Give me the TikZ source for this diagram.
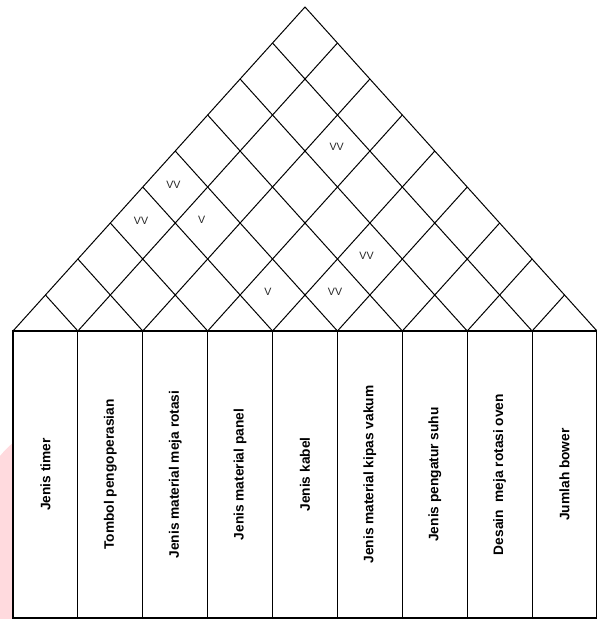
\documentclass[tikz,border=0pt]{standalone}
\usepackage{fontspec}
\setmainfont{Liberation Sans}
\begin{document}
\begin{tikzpicture}[x=0.75pt,y=-0.75pt,
  roofline/.style={line width=0.75pt},
  colbox/.style={draw,line width=0.9pt,rotate=90,minimum width=215.25pt,minimum height=48.67pt,inner sep=0pt,font=\bfseries\fontsize{10.3pt}{12pt}\selectfont},
  rel/.style={font=\fontsize{8pt}{9pt}\selectfont,text=black!85,inner sep=0pt}]
\useasboundingbox (0,0) rectangle (597,619);
% faint watermark at the left edge
\fill[fill={rgb,255:red,255;green,218;blue,222}] (0,456) .. controls (5,450) and (9,446) .. (13,443) -- (13,619) -- (0,619) -- cycle;
% roof
\coordinate (apex) at (305,7);
\foreach \k in {0,...,9} {
  \coordinate (b\k) at ({13+\k*64.889},331);
}
\draw[roofline] (b0) -- (apex) -- (b9);
\foreach \k in {1,...,8} {
  \draw[roofline] (b\k) -- ({(13+\k*64.889+597)/2},{331-(597-13-\k*64.889)/2*1.10959});
  \draw[roofline] (b\k) -- ({(26+\k*64.889)/2},{331-(\k*64.889)/2*1.10959});
}
% columns
\foreach \k/\t in {0/Jenis timer,1/Tombol pengoperasian,2/Jenis material meja rotasi,3/Jenis material panel,4/Jenis kabel,5/Jenis material kipas vakum,6/Jenis pengatur suhu,7/Desain~ meja rotasi oven,8/Jumlah bower} {
  \node[colbox] (c\k) at ({13+(\k+0.5)*64.889},474.5) {\t};
}
% relationship marks
\node[rel] (r1) at (336.7,147) {VV};
\node[rel] (r2) at (173.5,185) {VV};
\node[rel] (r3) at (141,220.5) {VV};
\node[rel] (r4) at (201.7,219.5) {V};
\node[rel] (r5) at (366.5,255.5) {VV};
\node[rel] (r6) at (268,292) {V};
\node[rel] (r7) at (335,292) {VV};
\end{tikzpicture}
\end{document}
